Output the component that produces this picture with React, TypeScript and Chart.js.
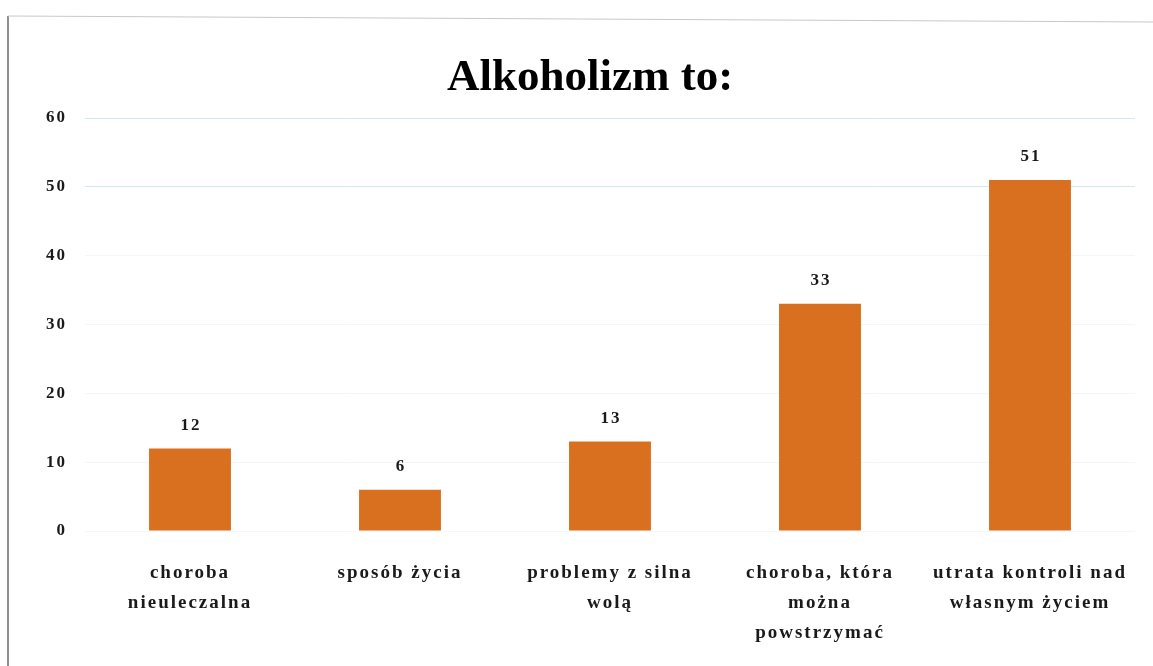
import React, { useEffect, useRef } from "react";
import { Chart, registerables } from "chart.js";

Chart.register(...registerables);

const TITLE = "Alkoholizm to:";
const categories: string[][] = [
  ["choroba", "nieuleczalna"],
  ["sposób życia"],
  ["problemy z silna", "wolą"],
  ["choroba, która", "można", "powstrzymać"],
  ["utrata kontroli nad", "własnym życiem"],
];
const values: number[] = [12, 6, 13, 33, 51];
const yTicks: number[] = [0, 10, 20, 30, 40, 50, 60];

const FONT = "'Liberation Serif', 'Times New Roman', serif";
const BAR_COLOR = "#d9701f";
const TEXT_COLOR = "#1a1a1a";

const decorPlugin = {
  id: "decor",
  beforeDraw(chart: any) {
    const ctx = chart.ctx;
    ctx.save();
    // scanned frame
    ctx.strokeStyle = "#6a6a6a";
    ctx.lineWidth = 1.5;
    ctx.beginPath();
    ctx.moveTo(8, 16);
    ctx.lineTo(8, 666);
    ctx.stroke();
    ctx.strokeStyle = "#c8c8c8";
    ctx.lineWidth = 1;
    ctx.beginPath();
    ctx.moveTo(8, 16);
    ctx.lineTo(1153, 22);
    ctx.stroke();
    // title
    ctx.fillStyle = "#000";
    ctx.font = `bold 45px ${FONT}`;
    ctx.textAlign = "center";
    ctx.textBaseline = "middle";
    ctx.fillText(TITLE, 590, 78);
    ctx.restore();
    (ctx as any).letterSpacing = "2px";
  },
  afterDatasetsDraw(chart: any) {
    const ctx = chart.ctx;
    const meta = chart.getDatasetMeta(0);
    ctx.save();
    (ctx as any).letterSpacing = "2px";
    ctx.fillStyle = TEXT_COLOR;
    ctx.font = `bold 17px ${FONT}`;
    ctx.textAlign = "center";
    ctx.textBaseline = "middle";
    meta.data.forEach((bar: any, i: number) => {
      ctx.fillText(String(values[i]), bar.x + 1, bar.y - 23);
    });
    ctx.restore();
  },
};

export default function App() {
  const ref = useRef<HTMLCanvasElement | null>(null);
  useEffect(() => {
    if (!ref.current) return;
    const chart = new Chart(ref.current, {
      type: "bar",
      data: {
        labels: categories,
        datasets: [
          {
            data: values,
            backgroundColor: BAR_COLOR,
            borderWidth: 0,
            barPercentage: 0.78,
            categoryPercentage: 0.5,
          },
        ],
      },
      options: {
        animation: false,
        responsive: false,
        maintainAspectRatio: false,
        layout: { padding: { top: 118, left: 0, right: 18, bottom: 0 } },
        plugins: {
          legend: { display: false },
          title: { display: false },
          tooltip: { enabled: false },
        },
        scales: {
          x: {
            grid: { display: false, drawTicks: false },
            border: { display: false },
            ticks: {
              padding: 27,
              color: TEXT_COLOR,
              font: { family: FONT, size: 19, weight: "bold", lineHeight: 1.58 },
              maxRotation: 0,
              autoSkip: false,
            },
            afterFit: (s: any) => {
              s.height = 135;
            },
          },
          y: {
            min: 0,
            max: 60,
            afterBuildTicks: (s: any) => {
              s.ticks = yTicks.map((v) => ({ value: v }));
            },
            grid: {
              drawTicks: false,
              color: (c: any) =>
                c.tick && c.tick.value >= 50 ? "#d3e7ef" : "rgba(236,242,243,0.6)",
            },
            border: { display: false },
            ticks: {
              padding: 18,
              color: TEXT_COLOR,
              font: { family: FONT, size: 17, weight: "bold" },
            },
            afterFit: (s: any) => {
              s.width = 85;
            },
          },
        },
      },
      plugins: [decorPlugin],
    } as any);
    return () => chart.destroy();
  }, []);
  return (
    <div style={{ position: "fixed", left: 0, top: 0, width: 1153, height: 666, background: "#fff" }}>
      <canvas ref={ref} width={1153} height={666} style={{ width: 1153, height: 666, display: "block" }} />
    </div>
  );
}
